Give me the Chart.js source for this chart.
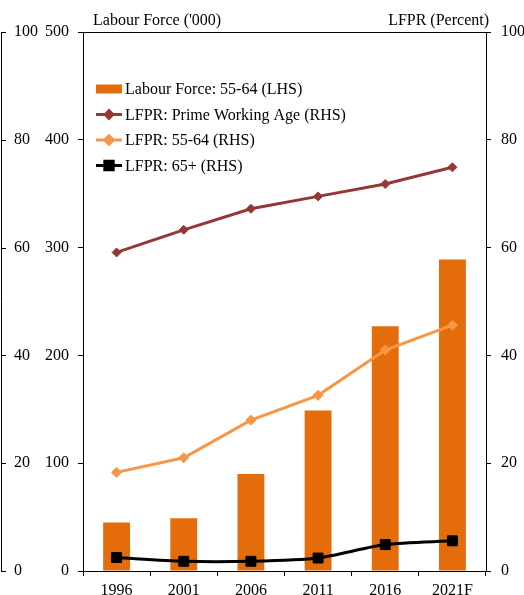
<!DOCTYPE html>
<html>
<head>
<meta charset="utf-8">
<script src="https://cdn.jsdelivr.net/npm/chart.js@4/dist/chart.umd.min.js"></script>
<style>
  body { margin: 0; background: #fff; }
  canvas { display: block; }
</style>
</head>
<body>
<canvas id="lfChart" width="524" height="595"></canvas>
<script>
const years = ["1996", "2001", "2006", "2011", "2016", "2021F"];
const labourForce5564 = [45, 49, 90, 149, 227, 289];
const lfprPrime = [59.1, 63.3, 67.2, 69.5, 71.8, 74.9];
const lfpr5564 = [18.3, 21.0, 28.0, 32.6, 41.0, 45.6];
const lfpr65 = [2.5, 1.8, 1.8, 2.4, 4.9, 5.6];

const FONT = "Liberation Serif, 'Times New Roman', serif";
const ORANGE = "#E46C0A";
const DARK_RED = "#953735";
const LIGHT_ORANGE = "#F79646";

const tickFont = { family: FONT, size: 16 };

// left-most 0-100 axis line, top border, axis titles and legend
const decorations = {
  id: "decorations",
  afterDraw(chart) {
    const ctx = chart.ctx;
    const area = chart.chartArea;
    const outer = chart.scales.yOuter;
    ctx.save();
    ctx.strokeStyle = "#000";
    ctx.lineWidth = 1;

    ctx.beginPath();
    ctx.moveTo(1.5, area.top);
    ctx.lineTo(1.5, area.bottom);
    outer.ticks.forEach(t => {
      const y = Math.round(outer.getPixelForValue(t.value)) + 0.5;
      ctx.moveTo(1, y);
      ctx.lineTo(6, y);
    });
    ctx.moveTo(area.left, area.top + 0.5);
    ctx.lineTo(area.right, area.top + 0.5);
    ctx.stroke();

    ctx.fillStyle = "#000";
    ctx.font = "16px " + FONT;
    ctx.textBaseline = "alphabetic";
    ctx.textAlign = "left";
    ctx.fillText("Labour Force ('000)", 93, 25);
    ctx.textAlign = "right";
    ctx.fillText("LFPR (Percent)", 489, 25);

    // legend
    ctx.textAlign = "left";
    ctx.textBaseline = "middle";
    const rows = [
      { text: "Labour Force: 55-64 (LHS)", ds: 0 },
      { text: "LFPR: Prime Working Age (RHS)", ds: 1 },
      { text: "LFPR: 55-64 (RHS)", ds: 2 },
      { text: "LFPR: 65+ (RHS)", ds: 3 }
    ];
    rows.forEach((r, i) => {
      const y = 89 + i * 25.5;
      const ds = chart.data.datasets[r.ds];
      if (r.ds === 0) {
        ctx.fillStyle = ds.backgroundColor;
        ctx.fillRect(96, y - 4.5, 26, 9);
      } else {
        ctx.strokeStyle = ds.borderColor;
        ctx.lineWidth = ds.borderWidth;
        ctx.beginPath();
        ctx.moveTo(96, y);
        ctx.lineTo(122, y);
        ctx.stroke();
        ctx.fillStyle = ds.pointBackgroundColor;
        ctx.strokeStyle = ds.pointBorderColor;
        Chart.helpers.drawPoint(ctx, {
          pointStyle: ds.pointStyle,
          radius: ds.pointRadius * 0.85,
          borderWidth: 1,
          rotation: 0
        }, 109, y);
      }
      ctx.fillStyle = "#000";
      ctx.fillText(r.text, 125, y + 1);
    });
    ctx.restore();
  }
};

new Chart(document.getElementById("lfChart"), {
  data: {
    labels: years,
    datasets: [
      {
        type: "bar",
        label: "Labour Force: 55-64 (LHS)",
        data: labourForce5564,
        backgroundColor: ORANGE,
        yAxisID: "y",
        categoryPercentage: 1,
        barPercentage: 0.4,
        order: 4
      },
      {
        type: "line",
        label: "LFPR: Prime Working Age (RHS)",
        data: lfprPrime,
        borderColor: DARK_RED,
        borderWidth: 3,
        pointStyle: "rectRot",
        pointRadius: 4.5,
        pointBorderWidth: 1,
        pointBackgroundColor: DARK_RED,
        pointBorderColor: DARK_RED,
        tension: 0,
        yAxisID: "y1",
        order: 1
      },
      {
        type: "line",
        label: "LFPR: 55-64 (RHS)",
        data: lfpr5564,
        borderColor: LIGHT_ORANGE,
        borderWidth: 3,
        pointStyle: "rectRot",
        pointRadius: 5,
        pointBorderWidth: 1,
        pointBackgroundColor: LIGHT_ORANGE,
        pointBorderColor: LIGHT_ORANGE,
        tension: 0,
        yAxisID: "y1",
        order: 2
      },
      {
        type: "line",
        label: "LFPR: 65+ (RHS)",
        data: lfpr65,
        borderColor: "#000",
        borderWidth: 3,
        pointStyle: "rect",
        pointRadius: 7,
        pointBorderWidth: 1,
        pointBackgroundColor: "#000",
        pointBorderColor: "#000",
        tension: 0.25,
        yAxisID: "y1",
        order: 3
      }
    ]
  },
  options: {
    responsive: false,
    animation: false,
    layout: { padding: { left: 14, top: 32, right: 0, bottom: 0 } },
    plugins: {
      legend: { display: false },
      tooltip: { enabled: false }
    },
    scales: {
      x: {
        type: "category",
        grid: { offset: true, drawOnChartArea: false, tickLength: 5, color: "#000" },
        border: { color: "#000" },
        ticks: { font: tickFont, color: "#000", padding: 5, maxRotation: 0 },
        afterFit: s => { s.height = 24; }
      },
      y: {
        position: "left",
        weight: 0,
        min: 0,
        max: 500,
        ticks: { stepSize: 100, font: tickFont, color: "#000", padding: 9 },
        grid: { drawOnChartArea: false, tickLength: 5, color: "#000" },
        border: { color: "#000" },
        afterFit: s => { s.width = 43; }
      },
      yOuter: {
        position: "left",
        weight: 1,
        min: 0,
        max: 100,
        ticks: { stepSize: 20, font: tickFont, color: "#000", crossAlign: "far" },
        grid: { display: false },
        border: { display: false },
        afterFit: s => { s.width = 26; }
      },
      y1: {
        position: "right",
        min: 0,
        max: 100,
        ticks: { stepSize: 20, font: tickFont, color: "#000", padding: 10 },
        grid: { drawOnChartArea: false, tickLength: 5, color: "#000" },
        border: { color: "#000" },
        afterFit: s => { s.width = 38; }
      }
    }
  },
  plugins: [decorations]
});
</script>
</body>
</html>
